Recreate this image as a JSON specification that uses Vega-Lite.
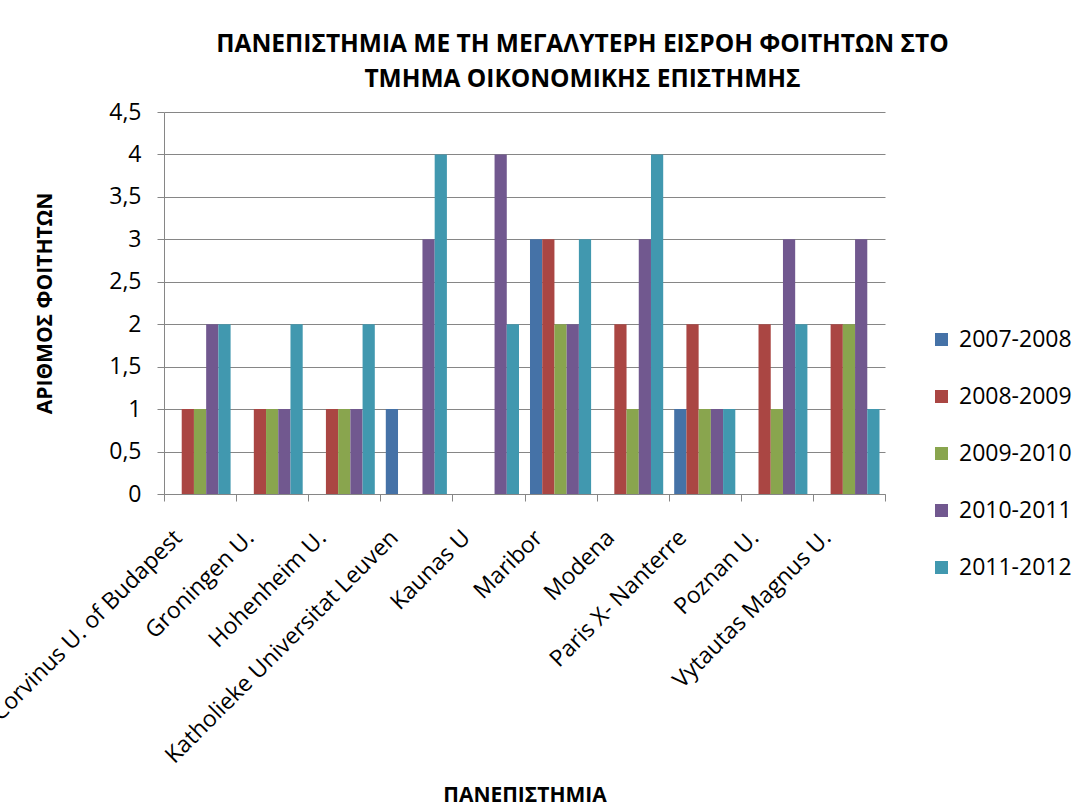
{
  "$schema": "https://vega.github.io/schema/vega-lite/v6.json",
  "autosize": {"type": "none"},
  "padding": {"left": 164, "top": 112, "right": 192, "bottom": 315},
  "width": 721,
  "height": 382,
  "background": "white",
  "title": {
    "text": ["ΠΑΝΕΠΙΣΤΗΜΙΑ ΜΕ ΤΗ ΜΕΓΑΛΥΤΕΡΗ ΕΙΣΡΟΗ ΦΟΙΤΗΤΩΝ ΣΤΟ", "ΤΜΗΜΑ ΟΙΚΟΝΟΜΙΚΗΣ ΕΠΙΣΤΗΜΗΣ"],
    "anchor": "middle",
    "dx": 58,
    "offset": 9,
    "font": "Open Sans",
    "fontSize": 24.5,
    "fontWeight": "bold",
    "color": "black",
    "lineHeight": 35
  },
  "data": {
    "values": [
      {"u": "Corvinus U. of Budapest", "y": "2007-2008", "v": 0},
      {"u": "Corvinus U. of Budapest", "y": "2008-2009", "v": 1},
      {"u": "Corvinus U. of Budapest", "y": "2009-2010", "v": 1},
      {"u": "Corvinus U. of Budapest", "y": "2010-2011", "v": 2},
      {"u": "Corvinus U. of Budapest", "y": "2011-2012", "v": 2},
      {"u": "Groningen U.", "y": "2007-2008", "v": 0},
      {"u": "Groningen U.", "y": "2008-2009", "v": 1},
      {"u": "Groningen U.", "y": "2009-2010", "v": 1},
      {"u": "Groningen U.", "y": "2010-2011", "v": 1},
      {"u": "Groningen U.", "y": "2011-2012", "v": 2},
      {"u": "Hohenheim U.", "y": "2007-2008", "v": 0},
      {"u": "Hohenheim U.", "y": "2008-2009", "v": 1},
      {"u": "Hohenheim U.", "y": "2009-2010", "v": 1},
      {"u": "Hohenheim U.", "y": "2010-2011", "v": 1},
      {"u": "Hohenheim U.", "y": "2011-2012", "v": 2},
      {"u": "Katholieke Universitat Leuven", "y": "2007-2008", "v": 1},
      {"u": "Katholieke Universitat Leuven", "y": "2008-2009", "v": 0},
      {"u": "Katholieke Universitat Leuven", "y": "2009-2010", "v": 0},
      {"u": "Katholieke Universitat Leuven", "y": "2010-2011", "v": 3},
      {"u": "Katholieke Universitat Leuven", "y": "2011-2012", "v": 4},
      {"u": "Kaunas U", "y": "2007-2008", "v": 0},
      {"u": "Kaunas U", "y": "2008-2009", "v": 0},
      {"u": "Kaunas U", "y": "2009-2010", "v": 0},
      {"u": "Kaunas U", "y": "2010-2011", "v": 4},
      {"u": "Kaunas U", "y": "2011-2012", "v": 2},
      {"u": "Maribor", "y": "2007-2008", "v": 3},
      {"u": "Maribor", "y": "2008-2009", "v": 3},
      {"u": "Maribor", "y": "2009-2010", "v": 2},
      {"u": "Maribor", "y": "2010-2011", "v": 2},
      {"u": "Maribor", "y": "2011-2012", "v": 3},
      {"u": "Modena", "y": "2007-2008", "v": 0},
      {"u": "Modena", "y": "2008-2009", "v": 2},
      {"u": "Modena", "y": "2009-2010", "v": 1},
      {"u": "Modena", "y": "2010-2011", "v": 3},
      {"u": "Modena", "y": "2011-2012", "v": 4},
      {"u": "Paris X- Nanterre", "y": "2007-2008", "v": 1},
      {"u": "Paris X- Nanterre", "y": "2008-2009", "v": 2},
      {"u": "Paris X- Nanterre", "y": "2009-2010", "v": 1},
      {"u": "Paris X- Nanterre", "y": "2010-2011", "v": 1},
      {"u": "Paris X- Nanterre", "y": "2011-2012", "v": 1},
      {"u": "Poznan U.", "y": "2007-2008", "v": 0},
      {"u": "Poznan U.", "y": "2008-2009", "v": 2},
      {"u": "Poznan U.", "y": "2009-2010", "v": 1},
      {"u": "Poznan U.", "y": "2010-2011", "v": 3},
      {"u": "Poznan U.", "y": "2011-2012", "v": 2},
      {"u": "Vytautas Magnus U.", "y": "2007-2008", "v": 0},
      {"u": "Vytautas Magnus U.", "y": "2008-2009", "v": 2},
      {"u": "Vytautas Magnus U.", "y": "2009-2010", "v": 2},
      {"u": "Vytautas Magnus U.", "y": "2010-2011", "v": 3},
      {"u": "Vytautas Magnus U.", "y": "2011-2012", "v": 1}
    ]
  },
  "mark": {"type": "bar"},
  "encoding": {
    "x": {
      "field": "u",
      "type": "nominal",
      "sort": null,
      "scale": {"paddingInner": 0, "paddingOuter": 0},
      "axis": {
        "title": "ΠΑΝΕΠΙΣΤΗΜΙΑ",
        "titleFont": "Open Sans",
        "titleFontSize": 21,
        "titleFontWeight": "bold",
        "titleColor": "black",
        "titleBaseline": "middle",
        "titleY": 301,
        "labelAngle": -45,
        "labelAlign": "right",
        "labelBaseline": "top",
        "labelFont": "Open Sans",
        "labelFontSize": 23,
        "labelColor": "black",
        "labelPadding": 25,
        "labelOffset": -30,
        "labelOverlap": false,
        "labelLimit": 0,
        "labelBound": false,
        "tickBand": "extent",
        "tickSize": 7,
        "tickColor": "#868686",
        "domainColor": "#868686",
        "grid": false
      }
    },
    "xOffset": {
      "field": "y",
      "type": "nominal",
      "scale": {"paddingInner": 0, "paddingOuter": 0.45}
    },
    "y": {
      "field": "v",
      "type": "quantitative",
      "scale": {"domain": [0, 4.5], "nice": false},
      "axis": {
        "title": "ΑΡΙΘΜΟΣ ΦΟΙΤΗΤΩΝ",
        "titleFont": "Open Sans",
        "titleFontSize": 21,
        "titleFontWeight": "bold",
        "titleColor": "black",
        "titleX": -119,
        "titleBaseline": "middle",
        "values": [0, 0.5, 1, 1.5, 2, 2.5, 3, 3.5, 4, 4.5],
        "labelExpr": "replace(format(datum.value, '.1~f'), '.', ',')",
        "labelFont": "Open Sans",
        "labelFontSize": 23,
        "labelColor": "black",
        "labelPadding": 16,
        "tickSize": 7,
        "tickColor": "#868686",
        "domainColor": "#868686",
        "grid": true,
        "gridColor": "#868686",
        "gridWidth": 1
      }
    },
    "color": {
      "field": "y",
      "type": "nominal",
      "scale": {
        "domain": ["2007-2008", "2008-2009", "2009-2010", "2010-2011", "2011-2012"],
        "range": ["#4572A7", "#AA4643", "#89A54E", "#71588F", "#4198AF"]
      },
      "legend": {
        "title": null,
        "orient": "none",
        "legendX": 766,
        "legendY": 216,
        "symbolType": "square",
        "symbolSize": 169,
        "symbolStrokeWidth": 0,
        "labelFont": "Open Sans",
        "labelFontSize": 23,
        "labelColor": "black",
        "labelOffset": 6,
        "rowPadding": 33
      }
    }
  },
  "config": {
    "view": {"stroke": null}
  }
}
